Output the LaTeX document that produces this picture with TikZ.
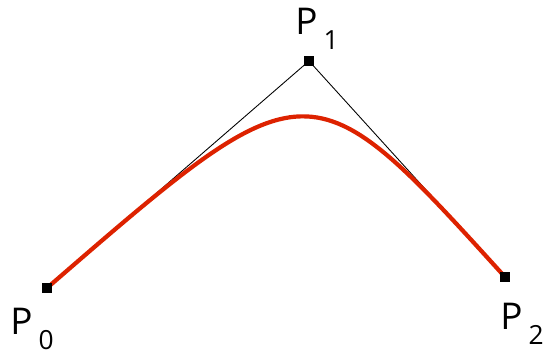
\documentclass[tikz,border=0pt]{standalone}
\usepackage{fontspec}
\setmainfont{Open Sans}
\usetikzlibrary{positioning}
\definecolor{bzred}{HTML}{DD2200}

\newcommand{\ptlabel}[1]{P\hspace{3.5pt}\raisebox{-8.5pt}{\fontsize{15}{16}\selectfont #1}}

\begin{document}
\begin{tikzpicture}[x=0.02cm, y=-0.02cm, every node/.style={font=\fontsize{21}{24}\selectfont}]
    \tikzset{
      ctrl/.style={rectangle, fill=black, inner sep=0pt, minimum size=6.2pt},
      hull/.style={draw=black, line width=0.5pt},
      curve/.style={draw=bzred, line width=2.4pt, line cap=round},
      ptname/.style={anchor=base west, inner sep=0pt}
    }
    \useasboundingbox (0,0) rectangle (545,357);

    % control points
    \node[ctrl] (p0) at (47, 288) {};
    \node[ctrl] (p1) at (309, 61) {};
    \node[ctrl] (p2) at (505, 277) {};

    % labels
    \node[ptname] (l0) at (10, 335) {\ptlabel{0}};
    \node[ptname] (l1) at (295, 35) {\ptlabel{1}};
    \node[ptname] (l2) at (500, 330) {\ptlabel{2}};

    % control polygon and curve
    \draw[hull] (p0.center) -- (p1.center) -- (p2.center);
    \draw[curve] (p0.center) .. controls (p1.center) and (p1.center) .. (p2.center);

    \node[ctrl] at (p0) {};
    \node[ctrl] at (p1) {};
    \node[ctrl] at (p2) {};
  \end{tikzpicture}
\end{document}
